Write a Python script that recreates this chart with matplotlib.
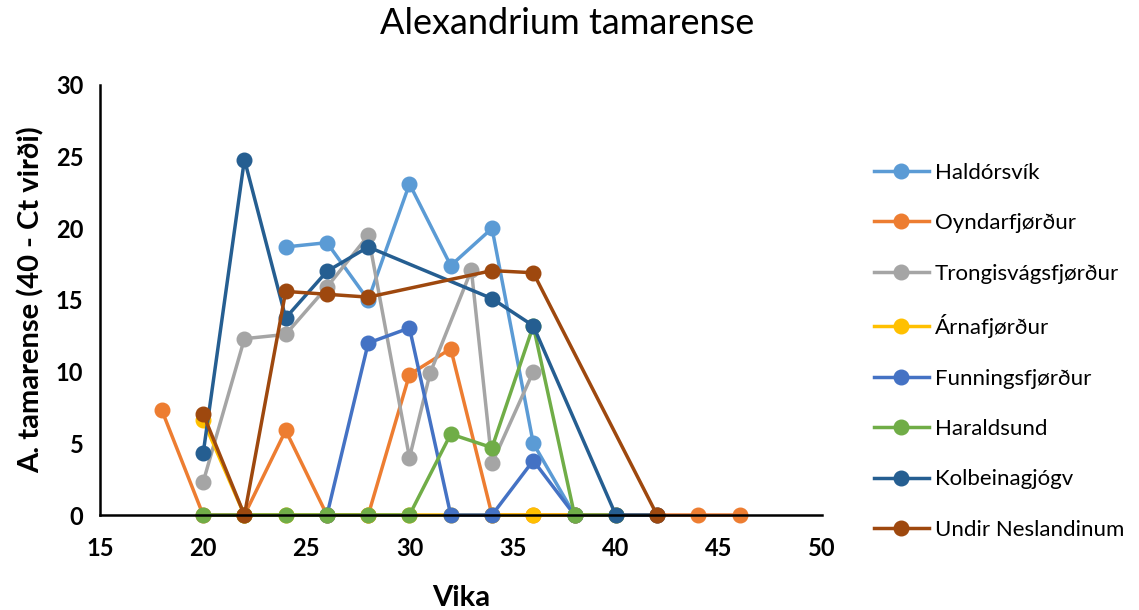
import matplotlib.pyplot as plt

plt.rcParams['font.family'] = ['Lato', 'DejaVu Sans']

# Vika (week) and value per station
haldorsvik_x = [24, 26, 28, 30, 32, 34, 36, 38]
haldorsvik_y = [18.7, 19.0, 15.0, 23.1, 17.4, 20.0, 5.0, 0]

oyndar_x = [18, 20, 22, 24, 26, 28, 30, 32, 34, 36, 38, 40, 42, 44, 46]
oyndar_y = [7.3, 0, 0, 5.9, 0, 0, 9.8, 11.6, 0, 0, 0, 0, 0, 0, 0]

trongis_x = [20, 22, 24, 26, 28, 30, 31, 33, 34, 36]
trongis_y = [2.3, 12.3, 12.6, 15.9, 19.5, 4.0, 9.9, 17.1, 3.6, 10.0]

arna_x = [20, 22, 24, 26, 28, 30, 32, 34, 36, 38]
arna_y = [6.6, 0, 0, 0, 0, 0, 0, 0, 0, 0]

funnings_x = [26, 28, 30, 32, 34, 36, 38]
funnings_y = [0, 12.0, 13.05, 0, 0, 3.8, 0]

haralds_x = [20, 22, 24, 26, 28, 30, 32, 34, 36, 38, 40]
haralds_y = [0, 0, 0, 0, 0, 0, 5.65, 4.7, 13.2, 0, 0]

kolbein_x = [20, 22, 24, 26, 28, 34, 36, 40, 42]
kolbein_y = [4.3, 24.8, 13.75, 17.0, 18.7, 15.1, 13.2, 0, 0]

undir_x = [20, 22, 24, 26, 28, 34, 36, 42]
undir_y = [7.05, 0, 15.6, 15.4, 15.2, 17.05, 16.9, 0]

series = [
    ("Haldórsvík", haldorsvik_x, haldorsvik_y, "#5B9BD5"),
    ("Oyndarfjørður", oyndar_x, oyndar_y, "#ED7D31"),
    ("Trongisvágsfjørður", trongis_x, trongis_y, "#A5A5A5"),
    ("Árnafjørður", arna_x, arna_y, "#FFC000"),
    ("Funningsfjørður", funnings_x, funnings_y, "#4472C4"),
    ("Haraldsund", haralds_x, haralds_y, "#70AD47"),
    ("Kolbeinagjógv", kolbein_x, kolbein_y, "#255E91"),
    ("Undir Neslandinum", undir_x, undir_y, "#9E480E"),
]

fig = plt.figure(figsize=(11.39, 6.10), dpi=100)
ax = fig.add_axes([0.0878, 0.1557, 0.634, 0.705])

for name, xs, ys, c in series:
    ax.plot(xs, ys, color=c, lw=2.5, marker='o', ms=10.5, label=name, clip_on=False)

ax.set_xlim(15, 50)
ax.set_ylim(0, 30)
ax.set_xticks(range(15, 51, 5))
ax.set_yticks(range(0, 31, 5))
ax.tick_params(length=0, labelsize=17)
ax.tick_params(axis='x', pad=16)
ax.tick_params(axis='y', pad=12)
for lab in ax.get_xticklabels() + ax.get_yticklabels():
    lab.set_fontweight('bold')
for s in ['left', 'bottom']:
    ax.spines[s].set_linewidth(1.8)
    ax.spines[s].set_color('black')
ax.spines['top'].set_visible(False)
ax.spines['right'].set_visible(False)

ax.set_xlabel("Vika", fontsize=21, fontweight='bold', labelpad=18)
ax.set_ylabel("A. tamarense (40 - Ct virði)", fontsize=21, fontweight='bold', labelpad=8)
fig.text(0.498, 0.962, "Alexandrium tamarense", ha='center', va='center', fontsize=26)

fig.legend(loc='center left', bbox_to_anchor=(0.750, 0.424), frameon=False,
           fontsize=16, labelspacing=1.37, handlelength=2.45, handletextpad=0.28)

fig.savefig("out.png", dpi=100)
